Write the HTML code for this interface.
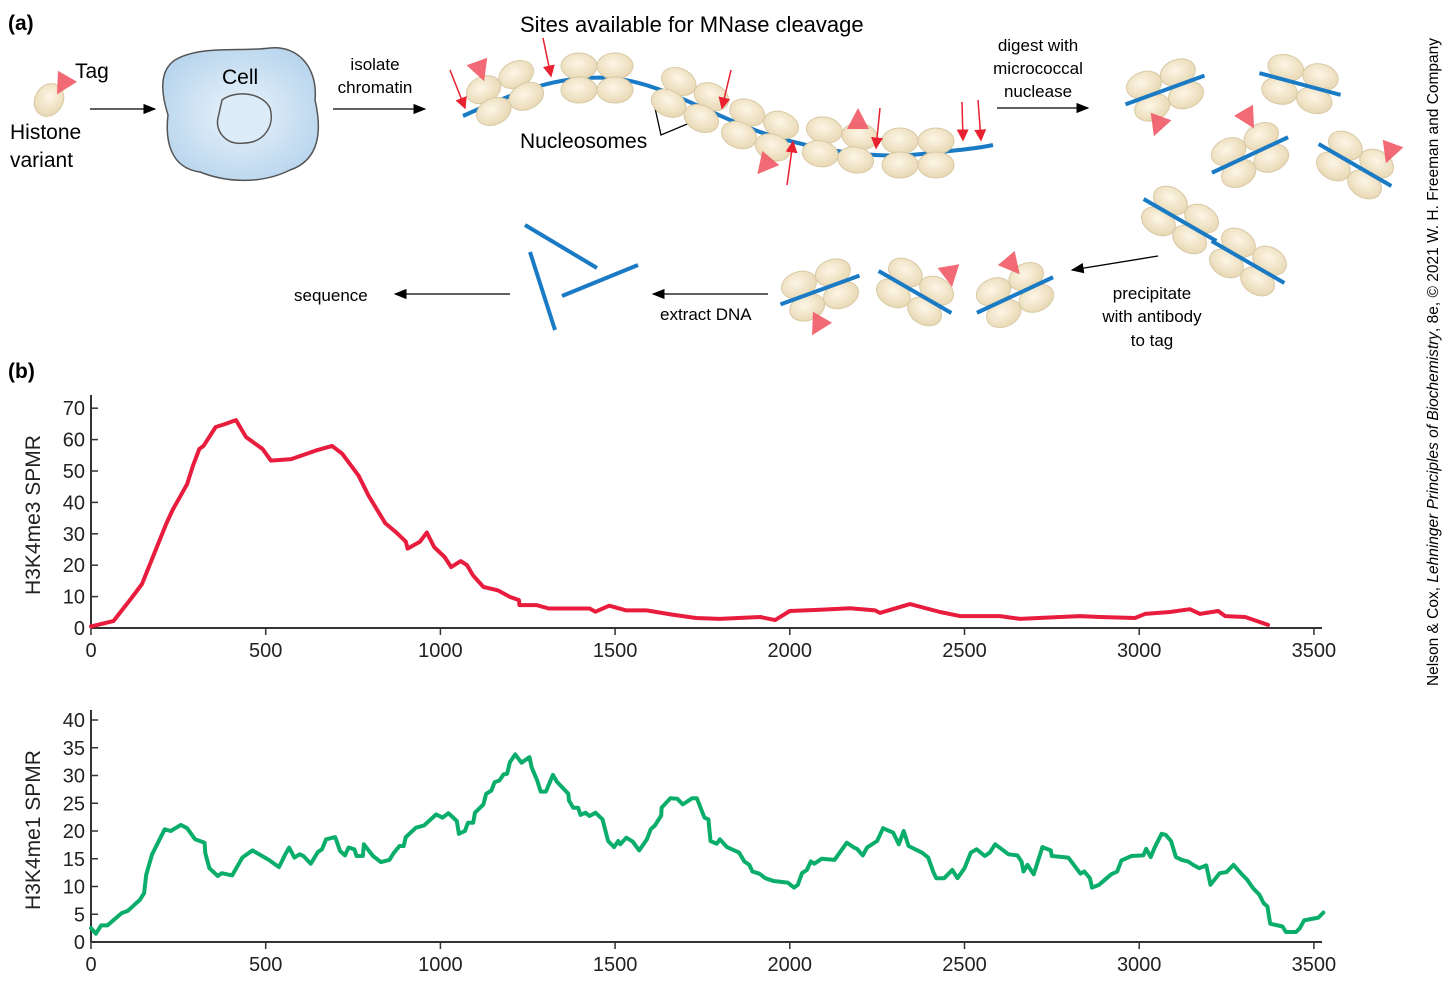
<!DOCTYPE html>
<html><head><meta charset="utf-8"><style>
body{margin:0;background:#fff;}
svg{display:block;font-family:"Liberation Sans",sans-serif;}
</style></head><body>
<svg id="s" width="1444" height="984" viewBox="0 0 1444 984" xmlns="http://www.w3.org/2000/svg">
<defs>
<radialGradient id="nuc" cx="45%" cy="40%" r="60%"><stop offset="0" stop-color="#fdf6e6"/><stop offset="1" stop-color="#e8d8b4"/></radialGradient>
<radialGradient id="cellg" cx="50%" cy="50%" r="60%"><stop offset="0" stop-color="#eaf4fc"/><stop offset="1" stop-color="#b5d3ec"/></radialGradient>
<marker id="ah" markerWidth="10" markerHeight="8" refX="9" refY="4" orient="auto"><path d="M0,0 L10,4 L0,8 z" fill="#000"/></marker>
<marker id="rh" markerWidth="8" markerHeight="8" refX="7" refY="4" orient="auto"><path d="M0,0 L8,4 L0,8 z" fill="#e8202f"/></marker>
</defs>
<g id="diagram">
<text x="8" y="30" font-size="21" font-weight="bold">(a)</text>
<text x="8" y="378" font-size="21" font-weight="bold">(b)</text>
<ellipse cx="49" cy="100" rx="14" ry="17" transform="rotate(30 49 100)" fill="url(#nuc)" stroke="#d9c9a5"/>
<text x="75" y="78" font-size="21">Tag</text>
<text x="10" y="139" font-size="21">Histone</text>
<text x="10" y="167" font-size="21">variant</text>
<path d="M175,60 C200,45 240,52 270,48 C300,45 318,70 315,100 C322,130 320,160 290,170 C260,185 225,182 200,172 C170,168 165,140 168,115 C160,90 160,70 175,60 Z" fill="url(#cellg)" stroke="#555" stroke-width="1.5"/>
<path d="M222,100 C235,90 262,92 270,108 C275,125 265,142 245,143 C225,146 215,130 218,118 Z" fill="#dcebf8" stroke="#555" stroke-width="1.5"/>
<text x="222" y="84" font-size="21">Cell</text>
<line x1="90" y1="109" x2="155" y2="109" stroke="#000" stroke-width="1.3" marker-end="url(#ah)"/>
<text x="375" y="70" font-size="17" text-anchor="middle">isolate</text>
<text x="375" y="93" font-size="17" text-anchor="middle">chromatin</text>
<line x1="333" y1="109" x2="425" y2="109" stroke="#000" stroke-width="1.3" marker-end="url(#ah)"/>
<path d="M463,116 C520,90 560,75 610,78 C660,82 700,110 760,132 C820,152 880,160 930,153 C960,150 980,148 993,145" fill="none" stroke="#1a7ac4" stroke-width="4"/>
<text x="520" y="32" font-size="22">Sites available for MNase cleavage</text>
<text x="520" y="148" font-size="21">Nucleosomes</text>
<path d="M655,108 L661,135 L692,122" fill="none" stroke="#000" stroke-width="1.3"/>
<text x="1038" y="51" font-size="17" text-anchor="middle">digest with</text>
<text x="1038" y="74" font-size="17" text-anchor="middle">micrococcal</text>
<text x="1038" y="97" font-size="17" text-anchor="middle">nuclease</text>
<line x1="997" y1="108" x2="1088" y2="108" stroke="#000" stroke-width="1.3" marker-end="url(#ah)"/>
<text x="1152" y="299" font-size="17" text-anchor="middle">precipitate</text>
<text x="1152" y="322" font-size="17" text-anchor="middle">with antibody</text>
<text x="1152" y="346" font-size="17" text-anchor="middle">to tag</text>
<line x1="1158" y1="256" x2="1072" y2="270" stroke="#000" stroke-width="1.3" marker-end="url(#ah)"/>
<text x="660" y="320" font-size="17">extract DNA</text>
<line x1="768" y1="294" x2="653" y2="294" stroke="#000" stroke-width="1.3" marker-end="url(#ah)"/>
<line x1="525" y1="225" x2="597" y2="268" stroke="#1a7ac4" stroke-width="4"/>
<line x1="530" y1="252" x2="555" y2="330" stroke="#1a7ac4" stroke-width="4"/>
<line x1="562" y1="296" x2="638" y2="265" stroke="#1a7ac4" stroke-width="4"/>
<line x1="510" y1="294" x2="395" y2="294" stroke="#000" stroke-width="1.3" marker-end="url(#ah)"/>
<text x="294" y="301" font-size="17">sequence</text>
</g>
<text transform="translate(1438,362) rotate(-90)" font-size="15.5" text-anchor="middle">Nelson &amp; Cox, <tspan font-style="italic">Lehninger Principles of Biochemistry</tspan>, 8e, © 2021 W. H. Freeman and Company</text>
<g id="charts"></g>
</svg>
<script>
// ---- chart data ----
const topX = [0,64,117,146,181,216,234,275,292,310,322,357,380,415,444,491,515,573,643,690,719,766,795,842,871,901,906,942,961,982,1012,1031,1058,1076,1094,1123,1164,1199,1225,1226,1275,1310,1392,1427,1444,1483,1532,1590,1661,1731,1799,1915,1958,2000,2087,2172,2244,2258,2344,2430,2487,2602,2659,2773,2830,2888,2988,3017,3088,3145,3174,3226,3246,3303,3369];
const topY = [0.5,2.2,9.7,14,23.7,33.4,37.7,45.8,51.7,57,58,64,64.8,66.2,60.8,57,53.3,53.8,56.5,58,55.5,48.5,42,33.4,30.7,27.5,25.3,27.5,30.4,25.8,22.6,19.4,21.3,20,16.7,13.1,12,9.9,8.9,7.3,7.3,6.2,6.2,6.2,5.2,7.1,5.6,5.6,4.3,3.2,2.9,3.5,2.5,5.4,5.8,6.3,5.6,4.8,7.6,5.1,3.8,3.8,2.9,3.5,3.8,3.5,3.2,4.5,5.1,6,4.5,5.4,3.8,3.5,1];
const botX = [0,14,29,47,88,105,140,152,158,175,211,228,257,275,298,325,327,339,363,374,404,433,462,509,538,556,567,582,597,608,629,649,661,673,699,713,727,737,754,760,778,781,807,830,854,866,883,895,901,930,953,988,1006,1023,1047,1053,1070,1079,1094,1099,1123,1131,1146,1155,1169,1181,1191,1199,1214,1232,1255,1261,1277,1287,1302,1322,1333,1366,1368,1380,1394,1401,1415,1427,1444,1464,1480,1497,1509,1515,1532,1550,1569,1591,1602,1614,1632,1633,1658,1678,1694,1720,1734,1749,1756,1767,1773,1791,1800,1820,1855,1870,1884,1893,1913,1930,1953,1994,2012,2023,2035,2049,2060,2070,2091,2128,2163,2184,2192,2209,2221,2250,2267,2296,2312,2326,2340,2378,2396,2410,2419,2442,2465,2480,2500,2518,2535,2558,2572,2588,2605,2626,2651,2663,2669,2680,2698,2723,2747,2750,2797,2820,2832,2843,2859,2865,2885,2920,2937,2949,2978,3012,3020,3033,3044,3064,3076,3091,3105,3122,3140,3157,3172,3192,3204,3230,3250,3270,3291,3309,3326,3344,3356,3367,3375,3410,3420,3449,3460,3472,3513,3527];
const botY = [2.5,1.5,3,3,5.2,5.6,7.6,8.8,12.1,15.8,20.3,20,21.1,20.5,18.5,17.9,16,13.3,11.9,12.4,12,15.2,16.5,14.8,13.5,15.8,17,15.2,15.8,15.5,14.1,16.2,16.7,18.5,18.9,16.4,15.6,17,16.7,15.5,15.5,17.6,15.5,14.4,14.8,16,17.3,17.3,18.9,20.6,21,23,22.4,23.2,21.8,19.5,20,21.5,21.5,23.3,24.8,26.7,27.3,28.8,29.1,30.2,30.3,32.4,33.8,32.3,33.3,31.5,29.1,27.1,27.1,30.1,28.9,26.7,25.5,24.2,24.2,22.9,23.3,22.7,23.3,22.1,18.2,17.1,18.2,17.6,18.8,18.1,16.5,18.5,20.3,21,22.8,24.2,25.9,25.8,24.8,25.9,25.9,23.5,22.4,22.1,18.2,17.7,18.5,17.1,16.1,14.5,13.9,12.7,12.3,11.5,11,10.7,9.8,10.3,12.4,13,14.5,14.1,15,14.8,17.9,17,16.8,15.6,17,18.2,20.5,19.7,17.6,20,17.3,16.1,15.2,12.7,11.5,11.5,13,11.5,13.3,16.1,16.7,15.5,16.1,17.6,16.8,15.8,15.6,14.5,12.7,13.9,12.2,17.1,16.5,15.5,15.2,13.3,12.3,12.7,11.5,9.8,10.3,12.2,12.7,14.7,15.5,15.6,16.8,15.3,17,19.5,19.3,18.2,15.3,14.8,14.5,13.8,13.3,13.8,10.3,12.4,12.6,13.9,12.4,11.2,9.7,8.5,7,6.4,3.3,2.8,1.8,1.8,2.5,3.9,4.4,5.3];
const xTicks = [0,500,1000,1500,2000,2500,3000,3500];
const topTicks = [0,10,20,30,40,50,60,70];
const botTicks = [0,5,10,15,20,25,30,35,40];

const NS='http://www.w3.org/2000/svg';
const root=document.getElementById('charts');
function mk(tag,attrs,parent){const e=document.createElementNS(NS,tag);for(const k in attrs)e.setAttribute(k,attrs[k]);(parent||root).appendChild(e);return e;}
const xS=v=>91+v*0.3494;

function chart(name,yZero,pxPer,yTicks,xs,ys,color,title,yTop,titleY){
  const g=mk('g',{});
  
  
  const yS=v=>yZero-v*pxPer;
  const ya=mk('line',{x1:91,y1:yTop,x2:91,y2:yZero,stroke:'#333','stroke-width':2},g);
  
  
  const xa=mk('line',{x1:91,y1:yZero,x2:1322,y2:yZero,stroke:'#333','stroke-width':2},g);
  
  
  yTicks.forEach(t=>{
    mk('line',{x1:91,y1:yS(t),x2:98,y2:yS(t),stroke:'#333','stroke-width':1.5},g);
    const tx=mk('text',{x:85,y:yS(t)+7,'font-size':20,'text-anchor':'end',fill:'#222'},g);
    tx.textContent=t;
    
    
  });
  xTicks.forEach(t=>{
    mk('line',{x1:xS(t),y1:yZero,x2:xS(t),y2:yZero+7,stroke:'#333','stroke-width':1.5},g);
    const tx=mk('text',{x:xS(t),y:yZero+29,'font-size':20,'text-anchor':'middle',fill:'#222'},g);
    tx.textContent=t;
    
    
  });
  const tt=mk('text',{transform:`translate(40,${titleY}) rotate(-90)`,'font-size':21,'text-anchor':'middle',fill:'#222'},g);
  tt.textContent=title;
  
  
  const d=xs.map((x,i)=>(i?'L':'M')+xS(x).toFixed(1)+','+yS(ys[i]).toFixed(1)).join(' ');
  const p=mk('path',{d:d,fill:'none',stroke:color,'stroke-width':4,'stroke-linejoin':'round','stroke-linecap':'round'},g);
  
  
}
chart('h3k4me3-chart',628,3.14,topTicks,topX,topY,'#e81c3c','H3K4me3 SPMR',395,515);
chart('h3k4me1-chart',942,5.55,botTicks,botX,botY,'#0aae6a','H3K4me1 SPMR',710,830);

// ---- diagram nucleosomes ----
const dg=document.getElementById('diagram');
const clusters=[[505,93,-25,0],[597,78,0,0],[690,100,25,0],[760,130,20,0],[840,145,10,0],[918,153,0,0],
 [1165,90,-20,1],[1300,84,15,1],[1250,155,-25,1],[1355,165,30,1],[1180,220,30,1],[1248,262,30,1],[820,290,-20,1],[915,292,30,1],[1015,295,-25,1]];
clusters.forEach(c=>{
  const g=mk('g',{transform:`translate(${c[0]},${c[1]}) rotate(${c[2]})`},dg);
  
  
  [[-18,-12],[18,-12],[-18,12],[18,12]].forEach(o=>mk('ellipse',{cx:o[0],cy:o[1],rx:18,ry:13,fill:'url(#nuc)',stroke:'#d9c9a5','stroke-width':1},g));
  if(c[3]) mk('line',{x1:-42,y1:0,x2:42,y2:0,stroke:'#1a7ac4','stroke-width':4},g);
});
const tags=[[63,84,30],[480,70,-20],[858,120,180],[765,165,40],[1158,125,20],[1248,118,-30],[1390,152,20],[818,325,30],[950,275,-10],[1012,265,-40]];
tags.forEach(t=>{
  const p=mk('path',{d:'M-11,-9 L11,-9 L0,12 Z',fill:'#ef5a66',opacity:0.9,transform:`translate(${t[0]},${t[1]}) rotate(${t[2]})`},dg);
  
  
});
const cuts=[[450,70,465,108],[543,38,551,76],[731,70,722,108],[880,108,876,148],[962,102,963,140],[978,100,981,140],[787,185,793,142]];
cuts.forEach(a=>{
  const l=mk('line',{x1:a[0],y1:a[1],x2:a[2],y2:a[3],stroke:'#e8202f','stroke-width':1.5,'marker-end':'url(#rh)'},dg);
  
  
});
</script>
</body></html>
